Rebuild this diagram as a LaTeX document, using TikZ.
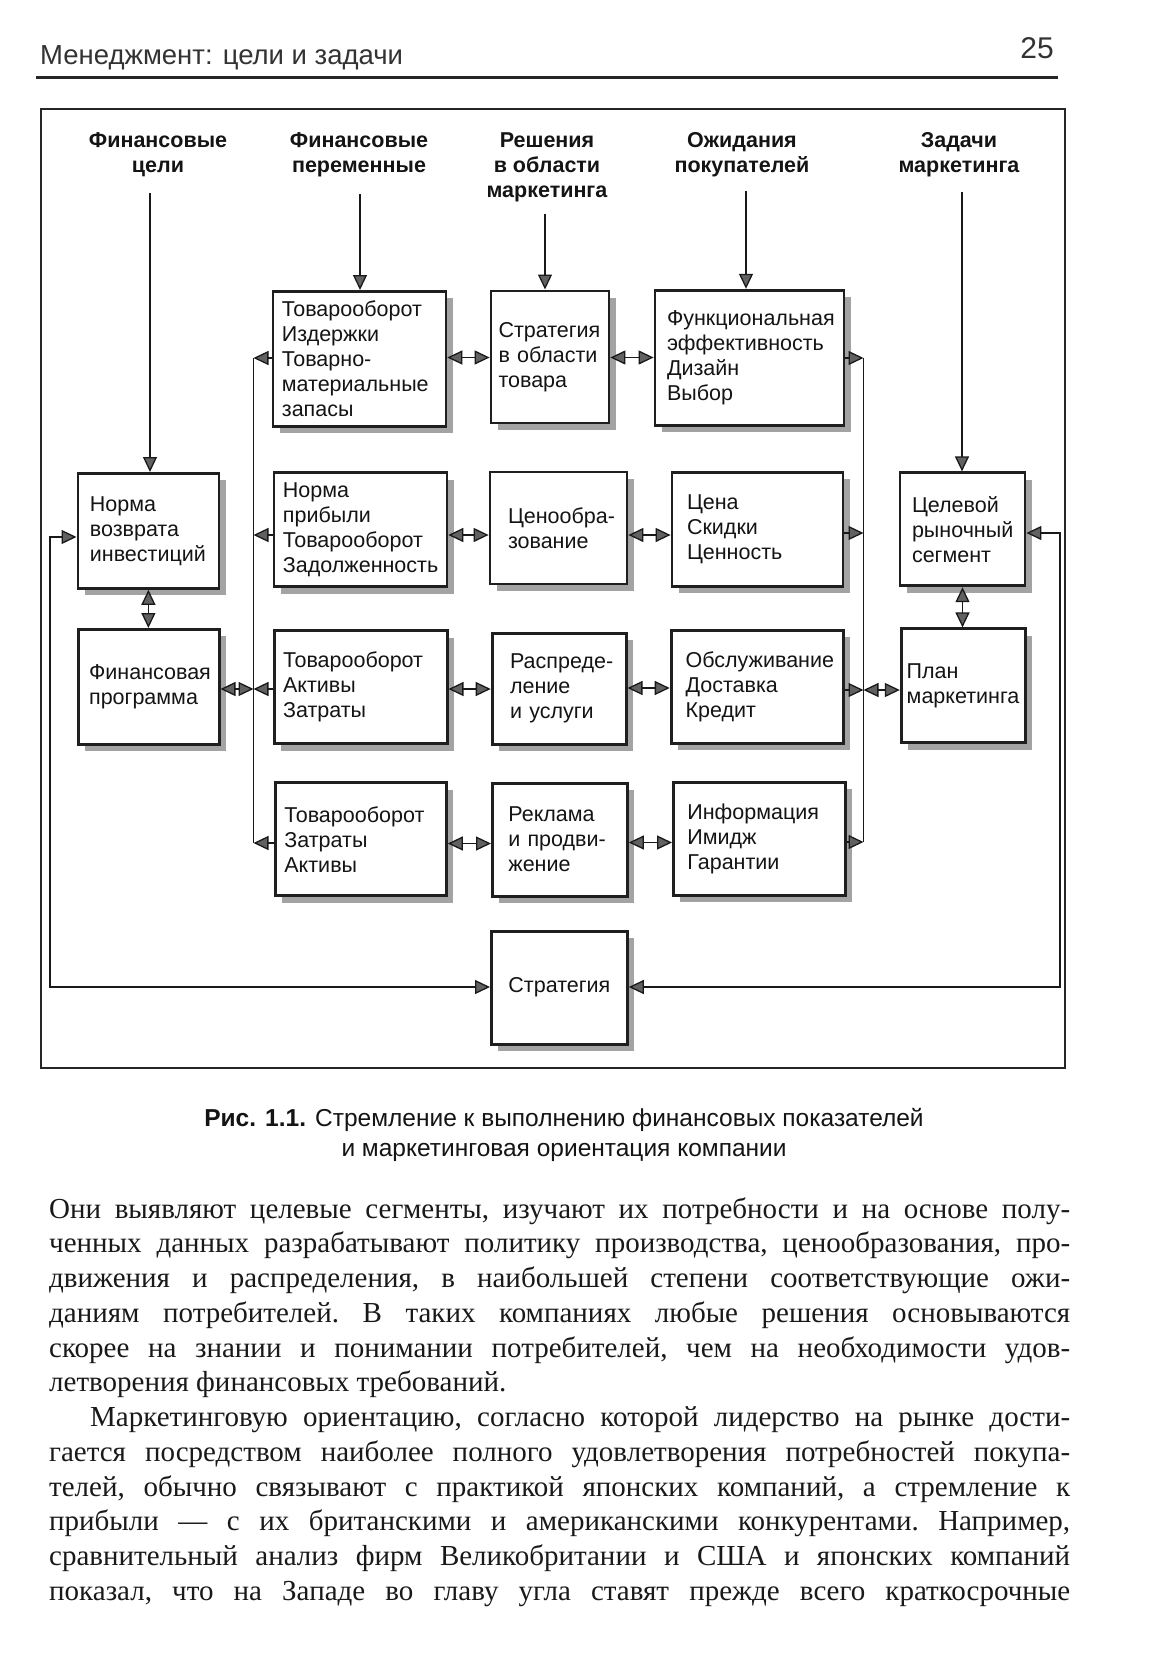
\documentclass[tikz,border=0pt]{standalone}
\usepackage{fontspec}
\setmainfont{Liberation Serif}
\newfontfamily\sansf{Liberation Sans}
\usetikzlibrary{arrows.meta,shadows}
\begin{document}
\begin{tikzpicture}[x=1pt,y=-1pt,
  boxfont/.style={font=\sansf\fontsize{21.5}{25}\selectfont},
  box/.style={draw=black!88, line width=2.8pt, fill=white, anchor=north west,
    align=left, boxfont, inner ysep=0pt, text=black!92,
    drop shadow={shadow xshift=7pt, shadow yshift=-7pt, fill=black!36, opacity=1}},
  hdr/.style={anchor=base, inner sep=0pt, text=black!92,
    font=\sansf\bfseries\fontsize{21.5}{25}\selectfont},
  capt/.style={anchor=base, inner sep=0pt, text=black!92,
    font=\sansf\fontsize{24.5}{30}\selectfont},
  conn/.style={line width=1.3pt, draw=black!90},
  arr/.style={conn, -{Triangle[length=15pt,width=14pt,fill=black!62]}},
  biarr/.style={conn, {Triangle[length=15pt,width=14pt,fill=black!62]}-{Triangle[length=15pt,width=14pt,fill=black!62]}}
]
% page
\fill[white] (0,0) rectangle (1170,1665);
\useasboundingbox (0,0) rectangle (1170,1665);

% running head
\node[anchor=base west, inner sep=0pt, text=black!80,
  font=\sansf\fontsize{27.5}{30}\selectfont] (runhead) at (40,64) {Менеджмент: цели и задачи};
\node[anchor=base east, inner sep=0pt, text=black!80,
  font=\sansf\fontsize{30}{32}\selectfont] (folio) at (1054,58) {25};
\draw[line width=3pt, black!85] (36,77) -- (1058,77);

% figure frame
\draw[line width=2.5pt, black!85] (41,109) rectangle (1065,1068);

% column headings
\node[hdr] (hA) at (158,147) {\begin{tabular}[t]{@{}c@{}}Финансовые\\цели\end{tabular}};
\node[hdr] (hB) at (359,147) {\begin{tabular}[t]{@{}c@{}}Финансовые\\переменные\end{tabular}};
\node[hdr] (hC) at (547,147) {\begin{tabular}[t]{@{}c@{}}Решения\\в области\\маркетинга\end{tabular}};
\node[hdr] (hD) at (742,147) {\begin{tabular}[t]{@{}c@{}}Ожидания\\покупателей\end{tabular}};
\node[hdr] (hE) at (959,147) {\begin{tabular}[t]{@{}c@{}}Задачи\\маркетинга\end{tabular}};

% financial goals column
\node[box, minimum width=141pt, minimum height=115pt, text width=117pt, inner xsep=12pt] (D) at (76.5,472) {Норма\\возврата\\инвестиций};
\node[box, minimum width=141pt, minimum height=115pt, text width=119pt, inner xsep=11pt] (E) at (76.7,628) {Финансовая\\программа};

% financial variables column
\node[box, minimum width=173pt, minimum height=135pt, text width=155pt, inner xsep=9pt] (A1) at (271.5,290) {Товарооборот\\Издержки\\\mbox{Товарно-}\\материальные\\запасы};
\node[box, minimum width=173pt, minimum height=114pt, text width=155pt, inner xsep=9pt] (A2) at (272.5,471.3) {Норма\\прибыли\\Товарооборот\\Задолженность};
\node[box, minimum width=173pt, minimum height=113pt, text width=155pt, inner xsep=9pt] (A3) at (272.7,629.3) {Товарооборот\\Активы\\Затраты};
\node[box, minimum width=171pt, minimum height=113pt, text width=153pt, inner xsep=9pt] (A4) at (274,781.4) {Товарооборот\\Затраты\\Активы};

% marketing decisions column
\node[box, minimum width=118pt, minimum height=132pt, text width=103pt, inner xsep=7.5pt] (B1) at (489.6,289.5) {Стратегия\\в области\\товара};
\node[box, minimum width=137pt, minimum height=112pt, text width=111pt, inner xsep=13pt] (B2) at (488.6,470.6) {\hspace*{5pt}\mbox{Ценообра-}\\\hspace*{5pt}зование};
\node[box, minimum width=134pt, minimum height=111pt, text width=110pt, inner xsep=12pt] (B3) at (490.7,631.7) {\hspace*{6pt}\mbox{Распреде-}\\\hspace*{6pt}ление\\\hspace*{6pt}и услуги};
\node[box, minimum width=135pt, minimum height=113pt, text width=107pt, inner xsep=14pt] (B4) at (491,781.7) {\hspace*{2pt}Реклама\\\hspace*{2pt}\mbox{и продви-}\\\hspace*{2pt}жение};

% customer expectations column
\node[box, minimum width=189pt, minimum height=135pt, text width=169pt, inner xsep=10pt] (C1) at (653.6,288.8) {\hspace*{2pt}Функциональная\\\hspace*{2pt}эффективность\\\hspace*{2pt}Дизайн\\\hspace*{2pt}Выбор};
\node[box, minimum width=171pt, minimum height=114pt, text width=141pt, inner xsep=15pt] (C2) at (670.6,471) {Цена\\Скидки\\Ценность};
\node[box, minimum width=172pt, minimum height=113pt, text width=147pt, inner xsep=12.5pt] (C3) at (669.7,629) {\hspace*{2pt}Обслуживание\\\hspace*{2pt}Доставка\\\hspace*{2pt}Кредит};
\node[box, minimum width=172pt, minimum height=113pt, text width=144pt, inner xsep=14pt] (C4) at (672,781) {Информация\\Имидж\\Гарантии};

% marketing tasks column
\node[box, minimum width=125pt, minimum height=113pt, text width=105pt, inner xsep=10pt] (F) at (898.6,471.4) {\hspace*{2pt}Целевой\\\hspace*{2pt}рыночный\\\hspace*{2pt}сегмент};
\node[box, minimum width=124pt, minimum height=114pt, text width=116pt, inner xsep=4pt] (G) at (899.8,627.4) {\hspace*{1.5pt}План\\\hspace*{1.5pt}маркетинга};

% strategy
\node[box, align=center, minimum width=136pt, minimum height=113pt, text width=120pt, inner xsep=8pt] (H) at (490,929.7) {Стратегия};

% heading arrows
\coordinate (sA) at (150,193);
\coordinate (sB) at (360,194);
\coordinate (sC) at (545,214);
\coordinate (sD) at (746,191);
\coordinate (sE) at (962,192);
\draw[arr] (sA) -- (sA |- D.north);
\draw[arr] (sB) -- (sB |- A1.north);
\draw[arr] (sC) -- (sC |- B1.north);
\draw[arr] (sD) -- (sD |- C1.north);
\draw[arr] (sE) -- (sE |- F.north);

% collecting lines
\coordinate (L1) at (253.5,358);
\coordinate (L2) at (253.5,535);
\coordinate (L3) at (253.5,689);
\coordinate (L4) at (253.5,843);
\coordinate (R1) at (863.5,358);
\coordinate (R2) at (863.5,533);
\coordinate (R3) at (863.5,690);
\coordinate (R4) at (863.5,842);
\draw[conn] (L1) -- (L4);
\draw[conn] (R1) -- (R4);

% financial variables into the left line
\draw[arr] (A1.west |- L1) -- (L1);
\draw[arr] (A2.west |- L2) -- (L2);
\draw[arr] (A3.west |- L3) -- (L3);
\draw[arr] (A4.west |- L4) -- (L4);
\draw[biarr] (E.east |- L3) -- (L3);

% customer expectations into the right line
\draw[arr] (C1.east |- R1) -- (R1);
\draw[arr] (C2.east |- R2) -- (R2);
\draw[arr] (C3.east |- R3) -- (R3);
\draw[arr] (C4.east |- R4) -- (R4);
\draw[biarr] (R3) -- (G.west |- R3);

% links across each row
\draw[biarr] (A1.east |- 0,357.5) -- (B1.west |- 0,357.5);
\draw[biarr] (B1.east |- 0,357.5) -- (C1.west |- 0,357.5);
\draw[biarr] (A2.east |- 0,535) -- (B2.west |- 0,535);
\draw[biarr] (B2.east |- 0,535) -- (C2.west |- 0,535);
\draw[biarr] (A3.east |- 0,689) -- (B3.west |- 0,689);
\draw[biarr] (B3.east |- 0,688) -- (C3.west |- 0,688);
\draw[biarr] (A4.east |- 0,843.5) -- (B4.west |- 0,843.5);
\draw[biarr] (B4.east |- 0,842.5) -- (C4.west |- 0,842.5);

% vertical pairs
\draw[biarr] (D.south) -- (D.south |- E.north);
\draw[biarr] (F.south) -- (F.south |- G.north);

% outer loops through the strategy box
\coordinate (lt) at (50,537);
\coordinate (lb) at (50,987);
\coordinate (rt) at (1060,533);
\coordinate (rb) at (1060,987);
\draw[biarr] (D.west |- lt) -- (lt) -- (lb) -- (H.west |- lb);
\draw[biarr] (F.east |- rt) -- (rt) -- (rb) -- (H.east |- rb);

% caption
\node[capt] (cap1) at (564,1126) {\textbf{Рис. 1.1.} Стремление к выполнению финансовых показателей};
\node[capt] (cap2) at (564,1156) {и маркетинговая ориентация компании};

% body text
\node[anchor=base west, inner sep=0pt, text=black!90,
  font=\fontsize{29}{34.75}\selectfont] (body) at (49,1218) {\vtop{%
\frenchspacing
\baselineskip=34.75pt \lineskiplimit=-1000pt \lineskip=0pt
\hbox to 1021pt{Они выявляют целевые сегменты, изучают их потребности и на основе полу-}
\hbox to 1021pt{ченных данных разрабатывают политику производства, ценообразования, про-}
\hbox to 1021pt{движения и распределения, в наибольшей степени соответствующие ожи-}
\hbox to 1021pt{даниям потребителей. В таких компаниях любые решения основываются}
\hbox to 1021pt{скорее на знании и понимании потребителей, чем на необходимости удов-}
\hbox{летворения финансовых требований.}
\hbox to 1021pt{\kern41pt Маркетинговую ориентацию, согласно которой лидерство на рынке дости-}
\hbox to 1021pt{гается посредством наиболее полного удовлетворения потребностей покупа-}
\hbox to 1021pt{телей, обычно связывают с практикой японских компаний, а стремление к}
\hbox to 1021pt{прибыли — с их британскими и американскими конкурентами. Например,}
\hbox to 1021pt{сравнительный анализ фирм Великобритании и США и японских компаний}
\hbox to 1021pt{показал, что на Западе во главу угла ставят прежде всего краткосрочные}
}};
\end{tikzpicture}
\end{document}
